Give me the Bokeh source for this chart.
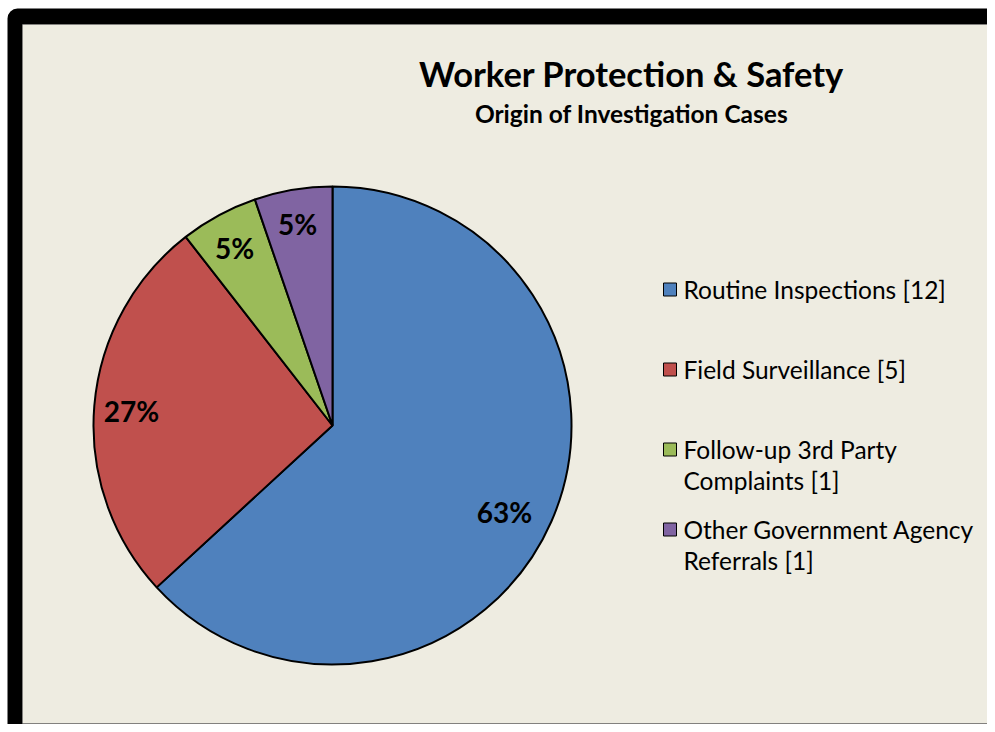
import math
from bokeh.plotting import figure
from bokeh.models import Range1d, BoxAnnotation, ColumnDataSource
from bokeh.core.properties import value
from bokeh.embed import file_html
from bokeh.resources import INLINE

# ---------------- data ----------------
categories = ["Routine Inspections", "Field Surveillance",
              "Follow-up 3rd Party Complaints", "Other Government Agency Referrals"]
counts = [12, 5, 1, 1]
pct_labels = ["63%", "27%", "5%", "5%"]
legend_labels = ["Routine Inspections [12]", "Field Surveillance [5]",
                 "Follow-up 3rd Party\nComplaints [1]", "Other Government Agency\nReferrals [1]"]
colors = ["#4F81BD", "#C0504D", "#9BBB59", "#8064A2"]
title_text = "Worker Protection & Safety"
subtitle_text = "Origin of Investigation Cases"

# ---------------- style / layout ----------------
FONT = "Lato"
W, H = 987, 724
def Y(img_y):
    return H - img_y

CX, CY, R = 332, Y(425), 239
LABEL_R = [0.805, 0.843, 0.85, 0.854]
LABEL_DA = [-2.9, 0.7, 0.4, 0.4]   # degrees
LEG_X_BOX, LEG_X_TEXT = 669.5, 683
LEG_ROW0, LEG_STEP = 289, 80
LEG_FONT = 24.5
LEG_LH = 1.05

p = figure(width=W, height=H, x_range=Range1d(0, W), y_range=Range1d(0, H),
           output_backend="svg", toolbar_location=None, min_border=0)
p.axis.visible = False
p.grid.visible = False
p.outline_line_color = None
p.background_fill_color = "white"
p.border_fill_color = "white"

frame = BoxAnnotation(left=7, right=W + 30, top=Y(8), bottom=-30,
                      fill_color="black", fill_alpha=1.0, line_color=None,
                      border_radius=10, level="underlay")
panel = BoxAnnotation(left=22, right=993, top=Y(24), bottom=Y(723),
                      fill_color="#EEECE1", fill_alpha=1.0, line_color="#9A9A9A",
                      line_width=1, level="underlay")
p.add_layout(frame)
p.add_layout(panel)

# pie wedges
total = sum(counts)
starts, ends, mids = [], [], []
cum = 0
for c in counts:
    a0 = math.pi / 2 - 2 * math.pi * cum / total
    cum += c
    a1 = math.pi / 2 - 2 * math.pi * cum / total
    starts.append(a0)
    ends.append(a1)
    mids.append((a0 + a1) / 2)

src = ColumnDataSource(dict(cat=categories, count=counts, start=starts, end=ends, color=colors))
p.wedge(x=CX, y=CY, radius=R, start_angle="start", end_angle="end", direction="clock",
        fill_color="color", line_color="black", line_width=2, source=src)

lang = [m + math.radians(d) for m, d in zip(mids, LABEL_DA)]
lx = [CX + f * R * math.cos(a) for f, a in zip(LABEL_R, lang)]
ly = [CY + f * R * math.sin(a) for f, a in zip(LABEL_R, lang)]
p.text(x=lx, y=ly, text=pct_labels, text_font=value(FONT), text_font_style="bold",
       text_font_size="28px", text_align="center", text_baseline="middle", text_color="black")

# titles
p.text(x=[631], y=[Y(73)], text=[title_text], text_font=value(FONT), text_font_style="bold",
       text_font_size="34.5px", text_align="center", text_baseline="middle", text_color="black")
p.text(x=[631], y=[Y(113)], text=[subtitle_text], text_font=value(FONT), text_font_style="bold",
       text_font_size="24.5px", text_align="center", text_baseline="middle", text_color="black")

# legend
rows = [LEG_ROW0 + i * LEG_STEP for i in range(len(categories))]
p.rect(x=[LEG_X_BOX] * len(rows), y=[Y(r) for r in rows], width=13, height=13,
       fill_color=colors, line_color="black", line_width=1)
p.text(x=[LEG_X_TEXT] * len(rows), y=[Y(r) + LEG_FONT * 0.58 for r in rows],
       text=legend_labels, text_font=value(FONT), text_font_size=f"{LEG_FONT}px",
       text_line_height=LEG_LH, text_align="left", text_baseline="top", text_color="black")

open("out.html", "w").write(file_html(p, INLINE))
